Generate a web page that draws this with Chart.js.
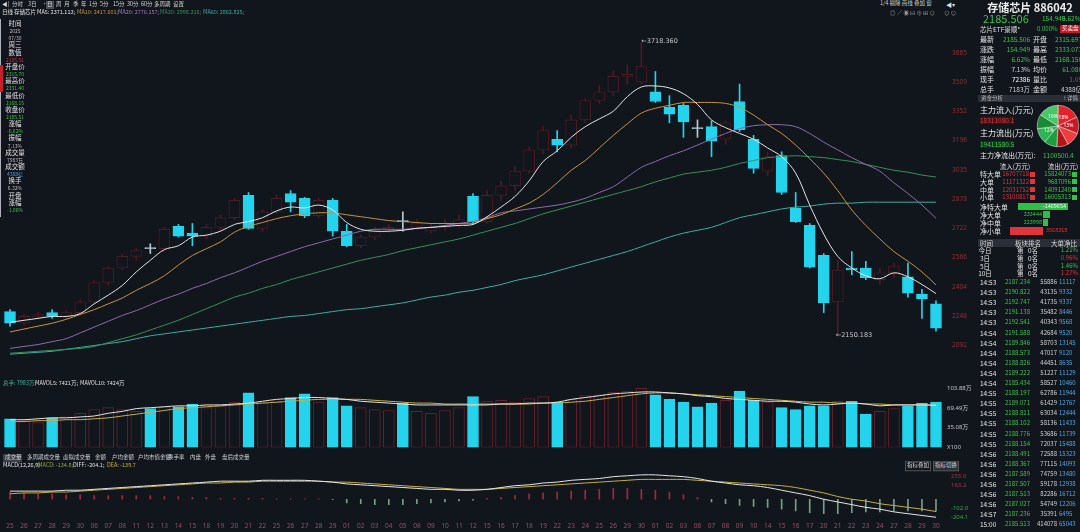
<!DOCTYPE html>
<html>
<head>
<meta charset="utf-8">
<script src="https://cdn.jsdelivr.net/npm/chart.js@4.4.1/dist/chart.umd.min.js"></script>
<style>
  html, body { margin: 0; padding: 0; width: 1080px; height: 532px; overflow: hidden; background: #11151c;
    font-family: "Noto Sans CJK SC", "Noto Sans", sans-serif; color: #d8d8d8; }
  canvas { position: absolute; left: 0; }
  .t { position: absolute; white-space: nowrap; line-height: 1; z-index: 2; }
  .b { position: absolute; z-index: 1; }
</style>
</head>
<body>
<canvas id="price" width="980" height="355" style="top:15px"></canvas>
<canvas id="vol" width="980" height="83" style="top:372px"></canvas>
<canvas id="macd" width="980" height="70" style="top:462px"></canvas>
<canvas id="pie" width="44" height="44" style="left:1036px;top:104px"></canvas>
<script>
// ---- data ----
const dates = ["25","26","27","28","29","30","06","07","08","11","12","13","14","15","18","19","20","21","22","25","26","27","28","29","01","02","03","04","05","08","09","10","11","12",
  "15","16","17","18","19","22","23","24","25","26","29","30","01","02","03","06","07","08","09","10","14","15","16","17","20","21","22","23","24","27","28","29","30"];

const opens = [2274.1,2211.5,2248.0,2268.8,2248.0,2268.8,2326.2,2430.4,2508.5,2571.0,2612.7,2612.7,2732.5,2696.1,2680.4,2727.3,2779.4,2899.3,2722.1,2810.7,
  2909.7,2883.6,2789.8,2873.2,2706.5,2628.3,2675.2,2716.9,2758.6,2727.3,2706.5,2727.3,2743.0,2894.0,2758.6,2899.3,2951.4,3029.5,3144.1,3201.4,
  3170.2,3305.6,3409.8,3456.7,3540.1,3508.8,3456.7,3373.4,3383.8,3258.7,3269.2,3201.4,3404.6,3201.4,3029.5,3112.9,2831.5,2737.7,2576.2,2326.2,
  2508.5,2508.5,2446.0,2482.5,2461.6,2367.8,2315.7];
const highs = [2284.5,2258.4,2268.8,2284.5,2279.3,2336.6,2440.8,2518.9,2581.4,2612.7,2638.8,2727.3,2743.0,2748.2,2743.0,2795.1,2883.6,2914.9,2821.1,2899.3,
  2925.3,2888.8,2883.6,2883.6,2743.0,2685.6,2727.3,2743.0,2810.7,2769.0,2748.2,2769.0,2795.1,2909.7,2925.3,2977.4,3055.6,3159.8,3269.2,3248.3,
  3331.7,3420.3,3488.0,3571.3,3602.6,3718.36,3566.1,3435.9,3394.2,3305.6,3300.4,3300.4,3498.4,3222.3,3133.7,3133.7,2914.9,2748.2,2586.7,2550.2,
  2597.1,2545.0,2508.5,2534.6,2534.6,2393.9,2331.4];
const lows = [2195.9,2201.1,2237.6,2237.6,2237.6,2258.4,2315.7,2414.7,2498.1,2550.2,2586.7,2602.3,2675.2,2628.3,2664.8,2706.5,2769.0,2716.9,2706.5,2800.3,
  2810.7,2779.4,2779.4,2680.4,2623.1,2617.9,2659.6,2701.3,2706.5,2716.9,2696.1,2711.7,2727.3,2748.2,2748.2,2873.2,2925.3,3019.1,3123.3,3133.7,
  3154.5,3290.0,3394.2,3435.9,3498.4,3498.4,3399.4,3290.0,3211.9,3211.9,3107.7,3175.4,3243.1,3019.1,3003.5,2904.5,2753.4,2508.5,2268.8,2150.183,
  2472.0,2446.0,2419.9,2456.4,2352.2,2237.6,2168.15];
const closes = [2211.5,2248.0,2258.4,2248.0,2268.8,2326.2,2430.4,2508.5,2571.0,2602.3,2612.7,2716.9,2680.4,2680.4,2727.3,2779.4,2873.2,2722.1,2810.7,2883.6,
  2862.8,2789.8,2873.2,2706.5,2628.3,2675.2,2716.9,2727.3,2758.6,2748.2,2727.3,2748.2,2769.0,2758.6,2899.3,2951.4,3029.5,3144.1,3248.3,3170.2,
  3305.6,3409.8,3456.7,3540.1,3550.5,3592.2,3404.6,3336.9,3295.2,3258.7,3191.0,3290.0,3253.5,3045.1,3107.7,2914.9,2758.6,2513.7,2320.9,2498.1,
  2498.1,2456.4,2482.5,2518.9,2373.0,2341.8,2185.506];

const ma5 = [2216.7,2227.2,2237.6,2248.0,2248.0,2263.6,2315.7,2362.6,2414.7,2487.7,2550.2,2607.5,2628.3,2675.2,2685.6,2706.5,2743.0,2758.6,2779.4,2815.9,
  2836.7,2831.5,2847.2,2821.1,2753.4,2716.9,2706.5,2706.5,2711.7,2722.1,2727.3,2732.5,2737.7,2743.0,2784.6,2836.7,2894.0,2977.4,3081.6,3138.9,
  3211.9,3269.2,3310.8,3352.5,3430.7,3482.8,3488.0,3477.6,3446.3,3389.0,3305.6,3264.0,3232.7,3201.4,3154.5,3107.7,3019.1,2847.2,2690.9,2571.0,
  2508.5,2466.8,2451.2,2482.5,2461.6,2419.9,2371.1];
const ma10 = [2164.6,2180.3,2195.9,2211.5,2232.4,2258.4,2284.5,2315.7,2347.0,2388.7,2425.1,2466.8,2524.1,2576.2,2612.7,2649.2,2701.3,2732.5,2753.4,2774.2,
  2789.8,2800.3,2805.5,2805.5,2795.1,2784.6,2774.2,2763.8,2758.6,2753.4,2748.2,2748.2,2748.2,2748.2,2774.2,2795.1,2826.3,2857.6,2904.5,2967.0,
  3034.7,3086.8,3154.5,3222.3,3284.8,3342.1,3368.2,3383.8,3399.4,3399.4,3399.4,3394.2,3373.4,3331.7,3279.6,3232.7,3170.2,3097.2,3019.1,2925.3,
  2821.1,2737.7,2664.8,2597.1,2545.0,2487.7,2417.6];
const ma20 = [2076.1,2086.5,2096.9,2112.5,2128.2,2159.4,2190.7,2222.0,2253.2,2279.3,2310.5,2341.8,2367.8,2399.1,2425.1,2456.4,2482.5,2513.7,2545.0,2571.0,
  2597.1,2623.1,2644.0,2664.8,2685.6,2706.5,2716.9,2716.9,2716.9,2722.1,2727.3,2737.7,2748.2,2758.6,2779.4,2805.5,2815.9,2826.3,2836.7,2847.2,
  2862.8,2883.6,2914.9,2946.1,2998.2,3050.3,3081.6,3112.9,3138.9,3170.2,3201.4,3232.7,3258.7,3274.4,3279.6,3279.6,3269.2,3232.7,3185.8,3144.1,
  3102.4,3066.0,3029.5,2967.0,2909.7,2847.2,2776.2];
const ma30 = [2050.0,2055.2,2060.4,2065.7,2070.9,2076.1,2086.5,2107.3,2128.2,2149.0,2175.1,2201.1,2227.2,2258.4,2289.7,2320.9,2352.2,2373.0,2399.1,2419.9,
  2446.0,2466.8,2487.7,2508.5,2529.3,2550.2,2565.8,2581.4,2602.3,2617.9,2633.5,2649.2,2664.8,2685.6,2706.5,2727.3,2748.2,2774.2,2800.3,2821.1,
  2841.9,2862.8,2883.6,2904.5,2925.3,2946.1,2972.2,2993.0,3013.9,3024.3,3034.7,3050.3,3071.2,3086.8,3102.4,3107.7,3112.9,3107.7,3102.4,3092.0,
  3081.6,3066.0,3050.3,3034.7,3024.3,3008.7,2998.2];
const ma60 = [2044.8,2050.0,2055.2,2060.4,2070.9,2081.3,2091.7,2102.1,2112.5,2128.2,2143.8,2154.2,2164.6,2175.1,2185.5,2195.9,2206.3,2216.7,2227.2,2237.6,
  2248.0,2253.2,2263.6,2274.1,2284.5,2289.7,2300.1,2310.5,2320.9,2336.6,2352.2,2362.6,2378.3,2388.7,2404.3,2419.9,2440.8,2456.4,2472.0,2492.9,
  2513.7,2534.6,2555.4,2576.2,2597.1,2623.1,2649.2,2675.2,2696.1,2711.7,2727.3,2753.4,2779.4,2795.1,2810.7,2826.3,2836.7,2841.9,2852.4,2857.6,
  2857.6,2862.8,2862.8,2862.8,2862.8,2862.8,2862.8];

// volume in 万手
const volumes = [5031,4707,4382,5194,5356,6005,6654,6979,6654,6330,6817,7141,7141,7628,6979,7304,7953,9576,7790,7953,
  8764,9413,7953,8764,7304,6979,6654,6492,7790,6330,6005,6492,6979,8927,8115,8277,7953,8602,8927,7953,
  8440,9089,9251,9738,9900,10388,9251,8440,7953,7141,7790,8277,9900,8277,7953,6979,6654,7304,7304,8115,
  8115,5843,6330,6817,7304,7790,7983];
const mavol5 = [4869,4869,5031,5194,5194,5356,5518,6005,6330,6817,6979,7141,7304,7304,7466,7466,7628,7790,8115,8440,
  8602,8764,8764,8602,8440,8115,7953,7790,7628,7466,7466,7466,7466,7466,7466,7628,7628,7790,7790,7953,
  8440,8764,9089,9413,9576,9738,9738,9576,9413,9089,8927,8602,8440,8277,8115,8115,7953,7628,7466,7628,
  7790,7628,7304,7466,7466,7466,7421];
const mavol10 = [4544,4544,4707,4707,4869,4869,5031,5194,5518,5843,6167,6492,6817,6979,7141,7304,7466,7628,7790,7953,
  8115,8277,8440,8440,8440,8440,8277,8115,7953,7790,7790,7628,7628,7628,7628,7628,7628,7628,7790,7790,
  7953,8115,8440,8764,9089,9413,9576,9576,9413,9251,9089,8927,8764,8602,8440,8277,8115,7953,7953,7790,
  7790,7628,7628,7466,7466,7466,7424];

const diff = [91.8,91.8,91.8,91.8,102.0,102.0,112.2,122.4,132.6,142.8,153.0,163.2,173.4,183.6,193.8,204.0,204.0,204.0,214.2,214.2,
  214.2,214.2,204.0,193.8,173.4,163.2,153.0,142.8,132.6,122.4,112.2,112.2,102.0,102.0,112.2,132.6,153.0,163.2,183.6,193.8,
  214.2,224.4,234.6,255.0,265.2,275.4,275.4,265.2,255.0,234.6,204.0,183.6,163.2,153.0,132.6,102.0,71.4,40.8,0.0,-30.6,
  -61.2,-91.8,-112.2,-142.8,-163.2,-183.6,-204.1];
const dea = [61.2,71.4,71.4,81.6,81.6,91.8,102.0,112.2,122.4,132.6,142.8,153.0,163.2,173.4,183.6,183.6,193.8,193.8,204.0,204.0,
  204.0,204.0,204.0,193.8,193.8,183.6,173.4,163.2,153.0,142.8,132.6,122.4,112.2,112.2,112.2,122.4,132.6,142.8,153.0,163.2,
  173.4,183.6,193.8,204.0,214.2,224.4,224.4,224.4,224.4,214.2,204.0,193.8,183.6,173.4,163.2,153.0,132.6,102.0,71.4,30.6,
  0.0,-20.4,-51.0,-71.4,-91.8,-112.2,-139.7];
const macdHist = [81.6,71.4,61.2,61.2,51.0,51.0,40.8,40.8,40.8,40.8,40.8,30.6,30.6,20.4,20.4,10.2,10.2,10.2,10.2,5.1,
  5.1,5.1,5.1,-5.1,-40.8,-51.0,-61.2,-61.2,-61.2,-51.0,-40.8,-30.6,-20.4,-10.2,10.2,20.4,40.8,61.2,71.4,81.6,
  91.8,102.0,112.2,122.4,122.4,112.2,102.0,81.6,51.0,20.4,-30.6,-51.0,-71.4,-81.6,-91.8,-112.2,-132.6,-153.0,-163.2,-163.2,
  -153.0,-142.8,-142.8,-132.6,-132.6,-132.6,-134.8];

const priceTicks = [3665, 3509, 3352, 3196, 3035, 2878, 2722, 2566, 2404, 2248, 2092];
const volTicks = [0, 3508, 6949, 10388];
const volTickLabels = ["X100", "35.08万", "69.49万", "103.88万"];
const macdTicks = [255.0, 163.2, -102.0, -204.1];

const pieValues = [18, 13, 11, 9, 10, 12, 11, 16];

// quote panel texts
const quoteLeftNames = ["最新", "涨跌", "涨幅", "振幅", "现手", "总手"];
const quoteLeftValues = ["2185.506", "154.949", "6.62%", "7.13%", "72386", "7183万"];
const quoteRightNames = ["开盘", "最高", "最低", "均价", "量比", "金额"];
const quoteRightValues = ["2315.697", "2333.073", "2168.150", "61.080", "1.09", "4388亿"];
const flowNames = ["特大单", "大单", "中单", "小单"];
const flowIn = ["16707718", "11171322", "12031752", "13100817"];
const flowOut = ["15824073", "9687096", "14091240", "16005313"];
const netNames = ["净特大单", "净大单", "净中单", "净小单"];
const netValues = ["-1469654", "233444", "223998", "3568318"];
const rankPeriods = ["今日", "3日", "5日", "10日"];
const rankRatios = ["1.21%", "0.96%", "1.46%", "1.27%"];
const tickTimes = ["14:53","14:53","14:53","14:53","14:53","14:54","14:54","14:54","14:54","14:54","14:54","14:55","14:55",
  "14:55","14:55","14:55","14:55","14:56","14:56","14:56","14:56","14:56","14:56","14:57","15:00"];
const tickPrices = ["2187.234","2190.822","2192.747","2191.138","2192.541","2191.588","2189.846","2188.573","2188.826","2189.222",
  "2185.434","2188.197","2189.071","2188.811","2188.102","2188.776","2188.154","2188.491","2188.367","2187.589","2187.507",
  "2187.513","2187.027","2187.236","2185.513"];
const tickVols = ["55886","43135","41735","35482","40343","42684","58703","47017","44451","51227","58527","62786","61429",
  "63034","58136","53686","72037","72588","77115","74759","59178","82286","54749","35391","414078"];
const tickAmts = ["11117","9332","9337","8446","9568","9520","13145","9120","8635","11129","10460","11944","12767",
  "12444","11433","11739","15488","15323","14093","13480","12938","16712","12206","6495","65043"];

// ---- colours ----
const BG = "#11151c";
const UP = "#4e1a23";
const UP_VOL = "#66202b";
const DOWN = "#24d3ec";
const FLAT = "#b9cad3";
const GREEN = "#38c64c";
const RED = "#e2323c";

Chart.defaults.font.family = '"Noto Sans", "Noto Sans CJK SC", sans-serif';
Chart.defaults.animation = false;
Chart.defaults.plugins.legend.display = false;
Chart.defaults.plugins.tooltip.enabled = false;

function candleColor(i) {
  if (closes[i] > opens[i]) return UP;
  if (closes[i] < opens[i]) return DOWN;
  return FLAT;
}

function maLine(data, color) {
  return { type: "line", data, borderColor: color, borderWidth: 1, pointRadius: 0, tension: 0.35, order: 0 };
}

function rightAxis(min, max, ticks, opts) {
  return Object.assign({
    position: "right", min, max,
    grid: { display: false, drawTicks: false },
    border: { display: false },
    afterFit: s => { s.width = 37; },
    afterBuildTicks: s => { s.ticks = ticks.map(v => ({ value: v })); }
  }, opts);
}

const extremes = {
  id: "extremes",
  afterDatasetsDraw(chart) {
    const { ctx, scales: { x, y } } = chart;
    const hi = highs.indexOf(Math.max(...highs));
    const lo = lows.indexOf(Math.min(...lows));
    ctx.save();
    ctx.font = '6.5px "DejaVu Sans", sans-serif';
    ctx.fillStyle = "#c9c9c9";
    ctx.textBaseline = "middle";
    ctx.fillText("←" + highs[hi].toFixed(3), x.getPixelForValue(hi), y.getPixelForValue(highs[hi]) - 2);
    ctx.fillText("←" + lows[lo].toFixed(3), x.getPixelForValue(lo) - 2, y.getPixelForValue(lows[lo]) + 1);
    ctx.restore();
  }
};

new Chart(document.getElementById("price"), {
  type: "bar",
  data: {
    labels: dates,
    datasets: [
      maLine(ma5, "#e4e4e4"),
      maLine(ma10, "#c8943c"),
      maLine(ma20, "#8e6ca8"),
      maLine(ma30, "#38905a"),
      maLine(ma60, "#3aaea4"),
      {
        data: lows.map((l, i) => [l, highs[i]]),
        backgroundColor: dates.map((_, i) => candleColor(i)),
        barThickness: 1, grouped: false, order: 6
      },
      {
        data: opens.map((o, i) => [o, closes[i]]),
        backgroundColor: dates.map((_, i) => closes[i] > opens[i] ? BG : candleColor(i)),
        borderColor: dates.map((_, i) => candleColor(i)),
        borderWidth: 1, borderSkipped: false, barThickness: 11, minBarLength: 1,
        grouped: false, order: 5
      }
    ]
  },
  options: {
    responsive: false,
    layout: { padding: { left: 3, right: 0, top: 7, bottom: 8 } },
    scales: {
      x: { offset: true, display: false },
      y: rightAxis(2029.2, 3800.6, priceTicks, {
        ticks: { color: "#92303a", font: { size: 6.5 }, padding: 9, callback: v => v.toFixed(0) }
      })
    }
  },
  plugins: [extremes]
});

new Chart(document.getElementById("vol"), {
  type: "bar",
  data: {
    labels: dates,
    datasets: [
      maLine(mavol5, "#e4e4e4"),
      maLine(mavol10, "#c9b040"),
      {
        data: volumes,
        backgroundColor: dates.map((_, i) => closes[i] > opens[i] ? BG : DOWN),
        borderColor: dates.map((_, i) => closes[i] > opens[i] ? UP_VOL : DOWN),
        borderWidth: 1, borderSkipped: false, barThickness: 11, order: 5
      }
    ]
  },
  options: {
    responsive: false,
    layout: { padding: { left: 3, right: 0, top: 8, bottom: 2 } },
    scales: {
      x: { offset: true, display: false },
      y: rightAxis(0, 11848, volTicks, {
        ticks: { color: "#c4c4c4", font: { size: 6 }, padding: 4,
          callback: v => volTickLabels[volTicks.indexOf(v)] }
      })
    }
  }
});

new Chart(document.getElementById("macd"), {
  type: "bar",
  data: {
    labels: dates,
    datasets: [
      maLine(diff, "#e6e6e6"),
      maLine(dea, "#c9b040"),
      {
        data: macdHist,
        backgroundColor: macdHist.map(v => v >= 0 ? "#a02a3c" : "rgba(160,220,176,0.7)"),
        barThickness: 1, order: 5
      }
    ]
  },
  options: {
    responsive: false,
    layout: { padding: { left: 3, right: 0, top: 8, bottom: 0 } },
    scales: {
      x: {
        offset: true,
        grid: { display: false, drawTicks: false },
        border: { display: false },
        afterFit: s => { s.height = 12; },
        ticks: { color: "#9a5068", font: { size: 6.5 }, autoSkip: false, maxRotation: 0, padding: 2 }
      },
      y: rightAxis(-235, 290, macdTicks, {
        ticks: { color: c => c.tick.value >= 0 ? "#b0323e" : "#3aa650", font: { size: 6 }, padding: 8,
          callback: v => v.toFixed(1) }
      })
    }
  }
});

const pieText = {
  id: "pieText",
  afterDatasetsDraw(chart) {
    const ctx = chart.ctx;
    ctx.save();
    ctx.font = '5px "Noto Sans", sans-serif';
    ctx.fillStyle = "#ffffff";
    ctx.textAlign = "center";
    ctx.textBaseline = "middle";
    chart.getDatasetMeta(0).data.forEach((arc, i) => {
      if (pieValues[i] < 12) return;
      const p = arc.tooltipPosition();
      ctx.fillText(pieValues[i] + "%", p.x, p.y);
    });
    ctx.restore();
  }
};

new Chart(document.getElementById("pie"), {
  type: "pie",
  data: {
    labels: ["特大单流入", "大单流入", "中单流入", "小单流入", "小单流出", "中单流出", "大单流出", "特大单流出"],
    datasets: [{
      data: pieValues,
      backgroundColor: ["#e4222c", "#c81a22", "#f03c3c", "#b5141c", "#1f9c40", "#2db552", "#1a8a36", "#46c866"],
      borderColor: "#f4f4f4", borderWidth: 0.5
    }]
  },
  options: { responsive: false, layout: { padding: 1 } },
  plugins: [pieText]
});

// ---- text around the charts ----
function txt(x, y, s, color, size, align, extra) {
  const d = document.createElement("div");
  d.className = "t";
  d.textContent = s;
  d.style.left = x + "px";
  d.style.top = y + "px";
  d.style.color = color || "#d8d8d8";
  d.style.fontSize = (size || 7) + "px";
  const tx = align === "right" ? "-100%" : (align === "center" ? "-50%" : "0");
  d.style.transform = `translate(${tx},-50%)`;
  if (extra) Object.assign(d.style, extra);
  document.body.appendChild(d);
  return d;
}
function box(x, y, w, h, color, extra) {
  const d = document.createElement("div");
  d.className = "b";
  Object.assign(d.style, { left: x + "px", top: y + "px", width: w + "px", height: h + "px", background: color }, extra || {});
  document.body.appendChild(d);
  return d;
}

// top toolbar
const tools = [["◀|", 2], ["分时", 12], ["3日", 28], ["·", 42], ["日", 47], ["周", 56], ["月", 64], ["季", 73], ["年", 81],
  ["1分", 89], ["5分", 100], ["15分", 113], ["30分", 127], ["60分", 141], ["多周期", 154], ["设置", 173]];
box(46, 1, 8, 8, "#4a4f58");
tools.forEach(([s, x]) => txt(x, 5, s, "#d4d4d4", 5.5));
txt(880, 4, "1/4 剔除 画线 叠加 窗", "#cfcfcf", 5.5);
txt(946, 5, "◀▾", "#e0e0e0", 6);
txt(890, 14, "◎ ∕ ◉ ⊟ ⊕ ⊞ ⊙", "#9a9a9a", 5.5);
txt(944, 14, "⊙ ⊙", "#9a9a9a", 5.5);

// indicator header
txt(2, 13, "日线", "#e0e0e0", 5.5);
txt(14, 13, "存储芯片", "#e0e0e0", 5.5);
txt(37, 13, "MA5: 2371.113;", "#e4e4e4", 5.5);
txt(77, 13, "MA10: 2417.601;", "#c8943c", 5.5);
txt(118, 13, "MA20: 2776.157;", "#a47cc2", 5.5);
txt(160, 13, "MA30: 2998.216;", "#38905a", 5.5);
txt(203, 13, "MA60: 2862.825;", "#3aaea4", 5.5);

// left info box
box(0, 19, 29, 198, "rgba(17,21,28,0.92)", { borderLeft: "1px solid #aeb2b8" });
box(0, 65, 3, 27, "#c8202a", { zIndex: 3 });
const info = [["时间", "#e0e0e0"], ["2025", "#bdbdbd"], ["07/30", "#bdbdbd"], ["周三", "#e0e0e0"], ["数值", "#e0e0e0"], ["2185.51", "#d0303c"],
  ["开盘价", "#e0e0e0"], ["2315.70", GREEN], ["最高价", "#e0e0e0"], ["2331.40", GREEN], ["最低价", "#e0e0e0"], ["2168.15", GREEN],
  ["收盘价", "#e0e0e0"], ["2185.51", GREEN], ["涨幅", "#e0e0e0"], ["-6.62%", GREEN], ["振幅", "#e0e0e0"], ["7.13%", "#bdbdbd"],
  ["成交量", "#e0e0e0"], ["7983万", "#bdbdbd"], ["成交额", "#e0e0e0"], ["4388亿", "#4aa8e8"], ["换手", "#e0e0e0"], ["6.32%", "#bdbdbd"],
  ["开盘", "#e0e0e0"], ["涨幅", "#e0e0e0"], ["-1.06%", GREEN]];
info.forEach(([s, c], i) => txt(15, 23 + i * 7.15, s, c, /\d/.test(s) ? 5 : 6.5, "center"));

// volume / macd headers
txt(3, 384, "总手: 7983万;", "#3fb59a", 5.5);
txt(35, 384, "MAVOL5: 7421万;", "#e0e0e0", 5.5);
txt(80, 384, "MAVOL10: 7424万", "#e0e0e0", 5.5);
const tabs = [["成交量", 5], ["多周期成交量", 27], ["虚拟成交量", 63], ["金额", 95], ["户均金额", 112], ["户均市值金额", 138],
  ["换手率", 168], ["内盘", 190], ["外盘", 205], ["盘后成交量", 222]];
box(3, 454, 19, 8, "#3a3f48");
tabs.forEach(([s, x]) => txt(x, 458, s, "#d0d0d0", 5.5));
txt(3, 466, "MACD(12,26,9)", "#e0e0e0", 5.5);
txt(38, 466, "MACD: -134.8;", "#8fa64a", 5.5);
txt(73, 466, "DIFF: -204.1;", "#e0e0e0", 5.5);
txt(107, 466, "DEA: -139.7", "#c9b040", 5.5);
txt(905, 466, "指标叠加", "#d8d8d8", 5.5, null, { border: "1px solid #555", padding: "1px" });
txt(933, 466, "指标切换", "#d8d8d8", 5.5, null, { border: "1px solid #555", padding: "1px", background: "#2a2e36" });

// right quote panel
txt(1030, 7, "存储芯片 886042", "#ececec", 11, "center", { fontWeight: "bold" });
txt(983, 18, "2185.506", GREEN, 11);
txt(1042, 18, "154.949", GREEN, 6.5);
txt(1062, 18, "6.62%", GREEN, 6.5);
txt(980, 29, "芯片ETF景顺*", "#e0e0e0", 6.5);
txt(1037, 29, "0.000%", GREEN, 6);
txt(1060, 29, "买卖盘", "#ffffff", 5.5, null, { background: "#c01c26", padding: "1px 2px" });
quoteLeftNames.forEach((s, i) => {
  const y = 39 + i * 10;
  txt(980, y, s, "#e0e0e0", 7);
  txt(1030, y, quoteLeftValues[i], i < 3 ? GREEN : (i === 4 ? "#ffffff" : "#cfcfcf"), 6.5, "right");
  txt(1033, y, quoteRightNames[i], "#e0e0e0", 7);
  txt(1082, y, quoteRightValues[i], i < 4 ? GREEN : (i === 4 ? RED : "#cfcfcf"), 6.5, "right");
});
box(978, 95, 102, 7, "#2a2e36");
txt(981, 98.5, "资金分析", "#bdbdbd", 5.5);
txt(1064, 98.5, "! 详情", "#bdbdbd", 5.5);
txt(980, 110, "主力流入(万元)", "#e8e8e8", 8);
txt(980, 120, "18311080.1", RED, 6.5, null, { background: "#3a1418" });
txt(980, 133, "主力流出(万元)", "#e8e8e8", 8);
txt(980, 144, "19411580.5", GREEN, 6.5, null, { background: "#12301c" });
txt(980, 155, "主力净流出(万元):", "#e8e8e8", 7);
txt(1043, 155, "1100500.4", GREEN, 6.5);
txt(1015, 166, "流入(万元)", "#e0e0e0", 6.5, "center");
txt(1063, 166, "流出(万元)", "#e0e0e0", 6.5, "center");
flowNames.forEach((s, i) => {
  const y = 174 + i * 7.8;
  txt(980, y, s, "#e0e0e0", 7);
  txt(1029, y, flowIn[i], RED, 6, "right");
  box(1030, y - 2.5, 5, 5, "#e0343c");
  txt(1071, y, flowOut[i], GREEN, 6, "right");
  box(1072, y - 2.5, 5, 5, "#33c14b");
});
netNames.forEach((s, i) => {
  const y = 207 + i * 8.1;
  txt(980, y, s, "#e0e0e0", 7);
});
box(1018, 203, 50, 7, "#2fbe46");
txt(1066, 206.5, netValues[0], "#eaffea", 5.5, "right");
txt(1042, 214.5, netValues[1], GREEN, 5.5, "right");
box(1043, 211, 7, 7, "#2fbe46");
txt(1042, 222.5, netValues[2], GREEN, 5.5, "right");
box(1043, 219, 5, 7, "#2fbe46");
box(1010, 227, 33, 8, "#e0343c");
txt(1046, 231, netValues[3], RED, 5.5);
box(978, 239, 102, 8, "#2a2e36");
txt(980, 243, "时间", "#d8d8d8", 6.5);
txt(1028, 243, "板块排名", "#d8d8d8", 6.5, "center");
txt(1064, 243, "大单净比", "#d8d8d8", 6.5, "center");
rankPeriods.forEach((s, i) => {
  const y = 250 + i * 7.8;
  txt(985, y, s, "#e0e0e0", 6.5, "center");
  txt(1017, y, "第", "#e0e0e0", 6.5);
  txt(1028, y, "0名", "#e0e0e0", 6.5);
  txt(1078, y, rankRatios[i], i % 2 === 0 ? GREEN : RED, 6, "right");
});
tickTimes.forEach((s, i) => {
  const y = 282 + i * 10.1;
  txt(980, y, s, "#e6e6e6", 6.5);
  txt(1030, y, tickPrices[i], GREEN, 6, "right");
  txt(1057, y, tickVols[i], "#d2d2d2", 6, "right");
  txt(1059, y, tickAmts[i], "#4aa8e8", 6);
});
</script>
</body>
</html>
